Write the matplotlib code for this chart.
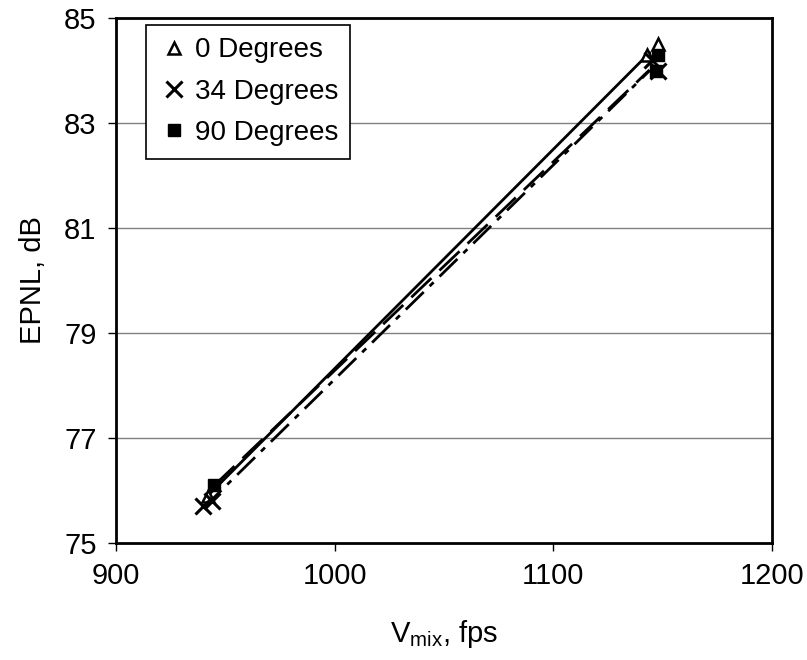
import numpy as np
import matplotlib
matplotlib.use("Agg")
import matplotlib.pyplot as plt
from matplotlib import rcParams

rcParams.update({"font.family": ["Liberation Sans", "DejaVu Sans"], "font.size": 21,
                 "mathtext.fontset": "custom", "mathtext.rm": "Liberation Sans",
                 "mathtext.it": "Liberation Sans:italic"})

# data
v_0 = [942, 1143, 1148]
e_0 = [75.9, 84.3, 84.5]
v_34 = [940, 944, 1145, 1148]
e_34 = [75.7, 75.8, 84.2, 84.0]
v_90 = [945, 1147, 1148]
e_90 = [76.1, 84.0, 84.3]
labels = ["0 Degrees", "34 Degrees", "90 Degrees"]
xticks = [900, 1000, 1100, 1200]
yticks = [75, 77, 79, 81, 83, 85]

fig = plt.figure(figsize=(8.07, 6.6), dpi=100)
ax = fig.add_axes([116/807, 117/660, 656/807, 525/660])

for y in yticks[1:-1]:
    ax.axhline(y, color="#808080", lw=1, zorder=0)

series = [
    (v_0, e_0, dict(marker="^", ms=9, mfc="white", mec="black", mew=1.8), "-"),
    (v_34, e_34, dict(marker="x", ms=11, mec="black", mew=2.2), (0, (9, 3, 2, 3))),
    (v_90, e_90, dict(marker="s", ms=8, mfc="black", mec="black"), (0, (10, 4))),
]
handles = []
for (v, e, mk, ls), lab in zip(series, labels):
    k, b = np.polyfit(v, e, 1)
    xs = np.array([min(v), max(v) - 4])
    ax.plot(xs, k*xs + b, color="black", lw=2, ls=ls, zorder=2)
    h, = ax.plot(v, e, ls="none", color="black", zorder=3, label=lab, **mk)
    handles.append(h)

ax.set_xlim(900, 1200)
ax.set_ylim(75, 85)
ax.set_xticks(xticks)
ax.set_yticks(yticks)
ax.tick_params(direction="out", length=6, width=1, pad=8)
for s in ax.spines.values():
    s.set_linewidth(2)

ax.set_xlabel(r"V$_{\mathrm{mix}}$, fps", labelpad=20)
ax.set_ylabel("EPNL, dB", labelpad=12)

leg = ax.legend(handles=handles, loc="upper left", bbox_to_anchor=(0.0457, 0.9867),
                borderaxespad=0, fancybox=False, edgecolor="black", framealpha=1,
                fontsize=20, handlelength=1.1, handletextpad=0.2, labelspacing=0.55,
                borderpad=0.45, markerscale=1.0)
leg.get_frame().set_linewidth(1.2)

fig.savefig("out.png", dpi=100)
